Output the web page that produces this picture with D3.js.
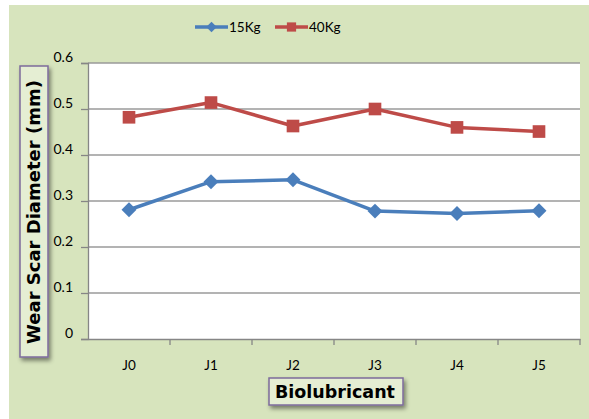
<!DOCTYPE html>
<html>
<head>
<meta charset="utf-8">
<script src="https://cdn.jsdelivr.net/npm/d3@7"></script>
<style>
  html, body { margin: 0; padding: 0; background: #ffffff; }
  svg { display: block; }
</style>
</head>
<body>
<svg id="chart" width="589" height="419"></svg>
<script>
// Wear scar diameter per biolubricant at two loads
const categories = ["J0", "J1", "J2", "J3", "J4", "J5"];
const seriesNames = ["15Kg", "40Kg"];
const values15 = [0.281, 0.342, 0.346, 0.278, 0.273, 0.279];
const values40 = [0.482, 0.514, 0.463, 0.500, 0.460, 0.451];
const yTicks = [0, 0.1, 0.2, 0.3, 0.4, 0.5, 0.6];
const yTickLabels = ["0", "0.1", "0.2", "0.3", "0.4", "0.5", "0.6"];

const colors = { "15Kg": "#4a7ebb", "40Kg": "#be4b48" };

// square-turned-45° diamond, same width and height
const symbolRhombus = {
  draw(context, size) {
    const r = Math.sqrt(size / 2);
    context.moveTo(0, -r);
    context.lineTo(r, 0);
    context.lineTo(0, r);
    context.lineTo(-r, 0);
    context.closePath();
  }
};

const series = [
  { name: seriesNames[0], values: values15, shape: symbolRhombus, size: 112, legendSize: 55 },
  { name: seriesNames[1], values: values40, shape: d3.symbolSquare, size: 160, legendSize: 85 }
];

const svg = d3.select("#chart");
const plot = { left: 88, right: 580, top: 63, bottom: 339 };
const tickFont = "Lato, 'Open Sans', sans-serif";
const titleFont = "'DejaVu Sans', Verdana, sans-serif";

// panel background
svg.append("rect").attr("x", 9).attr("y", 5).attr("width", 580).attr("height", 414)
  .attr("fill", "#d7e4bd");

const defs = svg.append("defs");
const f = defs.append("filter").attr("id", "shadow").attr("x", "-20%").attr("y", "-20%")
  .attr("width", "150%").attr("height", "150%");
f.append("feDropShadow").attr("dx", 2).attr("dy", 3).attr("stdDeviation", 2)
  .attr("flood-color", "#000").attr("flood-opacity", 0.45);

const x = d3.scaleBand().domain(categories).range([plot.left, plot.right]);
const y = d3.scaleLinear().domain([0, 0.6]).range([plot.bottom, plot.top]);

// plot area
svg.append("rect").attr("x", plot.left).attr("y", plot.top)
  .attr("width", plot.right - plot.left).attr("height", plot.bottom - plot.top)
  .attr("fill", "#ffffff");

// horizontal gridlines
svg.append("g").selectAll("line").data(yTicks.filter(t => t > 0)).join("line")
  .attr("x1", plot.left).attr("x2", plot.right)
  .attr("y1", d => y(d)).attr("y2", d => y(d))
  .attr("stroke", "#9a9a9a").attr("stroke-width", 1.3);

// y axis
const yAxis = d3.axisLeft(y).tickValues(yTicks).tickSizeOuter(0).tickSize(7).tickPadding(8)
  .tickFormat((d, i) => yTickLabels[i]);
const gy = svg.append("g").attr("transform", `translate(${plot.left},0)`).call(yAxis);
gy.select(".domain").attr("stroke", "#868686").attr("stroke-width", 1.3);
gy.selectAll(".tick line").attr("stroke", "#868686").attr("stroke-width", 1.3);
gy.selectAll(".tick text").attr("font-family", tickFont).attr("font-size", 14)
  .attr("fill", "#000").attr("dy", "-0.1em");

// x axis: ticks on category boundaries
const xAxis = d3.axisBottom(x).tickSize(0).tickPadding(21);
const gx = svg.append("g").attr("transform", `translate(0,${plot.bottom})`).call(xAxis);
gx.select(".domain").attr("stroke", "#868686").attr("stroke-width", 1.3);
gx.selectAll(".tick text").attr("font-family", tickFont).attr("font-size", 13.5).attr("fill", "#000");
const bounds = categories.map(c => x(c)).concat([plot.right]);
gx.append("g").selectAll("line").data(bounds.slice(1)).join("line")
  .attr("x1", d => d).attr("x2", d => d).attr("y1", 0).attr("y2", 6)
  .attr("stroke", "#868686").attr("stroke-width", 1.3);

// series lines and markers
const line = d3.line().x((d, i) => x(categories[i]) + x.bandwidth() / 2).y(d => y(d));
series.forEach(s => {
  svg.append("path").datum(s.values).attr("d", line)
    .attr("fill", "none").attr("stroke", colors[s.name]).attr("stroke-width", 3.5)
    .attr("stroke-linejoin", "round");
  svg.append("g").selectAll("path").data(s.values).join("path")
    .attr("transform", (d, i) => `translate(${x(categories[i]) + x.bandwidth() / 2},${y(d)})`)
    .attr("d", d3.symbol().type(s.shape).size(s.size))
    .attr("fill", colors[s.name]);
});

// legend
const legend = svg.append("g").attr("transform", "translate(195,27)");
const legendX = [0, 80];
series.forEach((s, i) => {
  const g = legend.append("g").attr("transform", `translate(${legendX[i]},0)`);
  g.append("line").attr("x1", 0).attr("x2", 33).attr("y1", 0).attr("y2", 0)
    .attr("stroke", colors[s.name]).attr("stroke-width", 3.5);
  g.append("path").attr("transform", "translate(16.5,0)")
    .attr("d", d3.symbol().type(s.shape).size(s.legendSize))
    .attr("fill", colors[s.name]);
  g.append("text").attr("x", 34).attr("y", 0).attr("dy", "0.35em")
    .attr("font-family", tickFont).attr("font-size", 13.5).attr("fill", "#000").text(s.name);
});

// y-axis title in a framed box
const yt = svg.append("g");
yt.append("rect").attr("x", 20).attr("y", 66).attr("width", 28).attr("height", 291)
  .attr("fill", "#e5eed3").attr("stroke", "#7d6b9c").attr("stroke-width", 1.5)
  .attr("filter", "url(#shadow)");
yt.append("text").attr("transform", "translate(34,212) rotate(-90)")
  .attr("text-anchor", "middle").attr("dy", "0.36em")
  .attr("font-family", titleFont).attr("font-weight", "bold").attr("font-size", 18)
  .attr("fill", "#000").text("Wear Scar Diameter (mm)");

// x-axis title in a framed box
const xt = svg.append("g");
xt.append("rect").attr("x", 269).attr("y", 378).attr("width", 134).attr("height", 27)
  .attr("fill", "#e5eed3").attr("stroke", "#7d6b9c").attr("stroke-width", 1.5)
  .attr("filter", "url(#shadow)");
xt.append("text").attr("x", 335).attr("y", 391.5).attr("text-anchor", "middle").attr("dy", "0.36em")
  .attr("font-family", titleFont).attr("font-weight", "bold").attr("font-size", 17.5)
  .attr("fill", "#000").text("Biolubricant");
</script>
</body>
</html>
